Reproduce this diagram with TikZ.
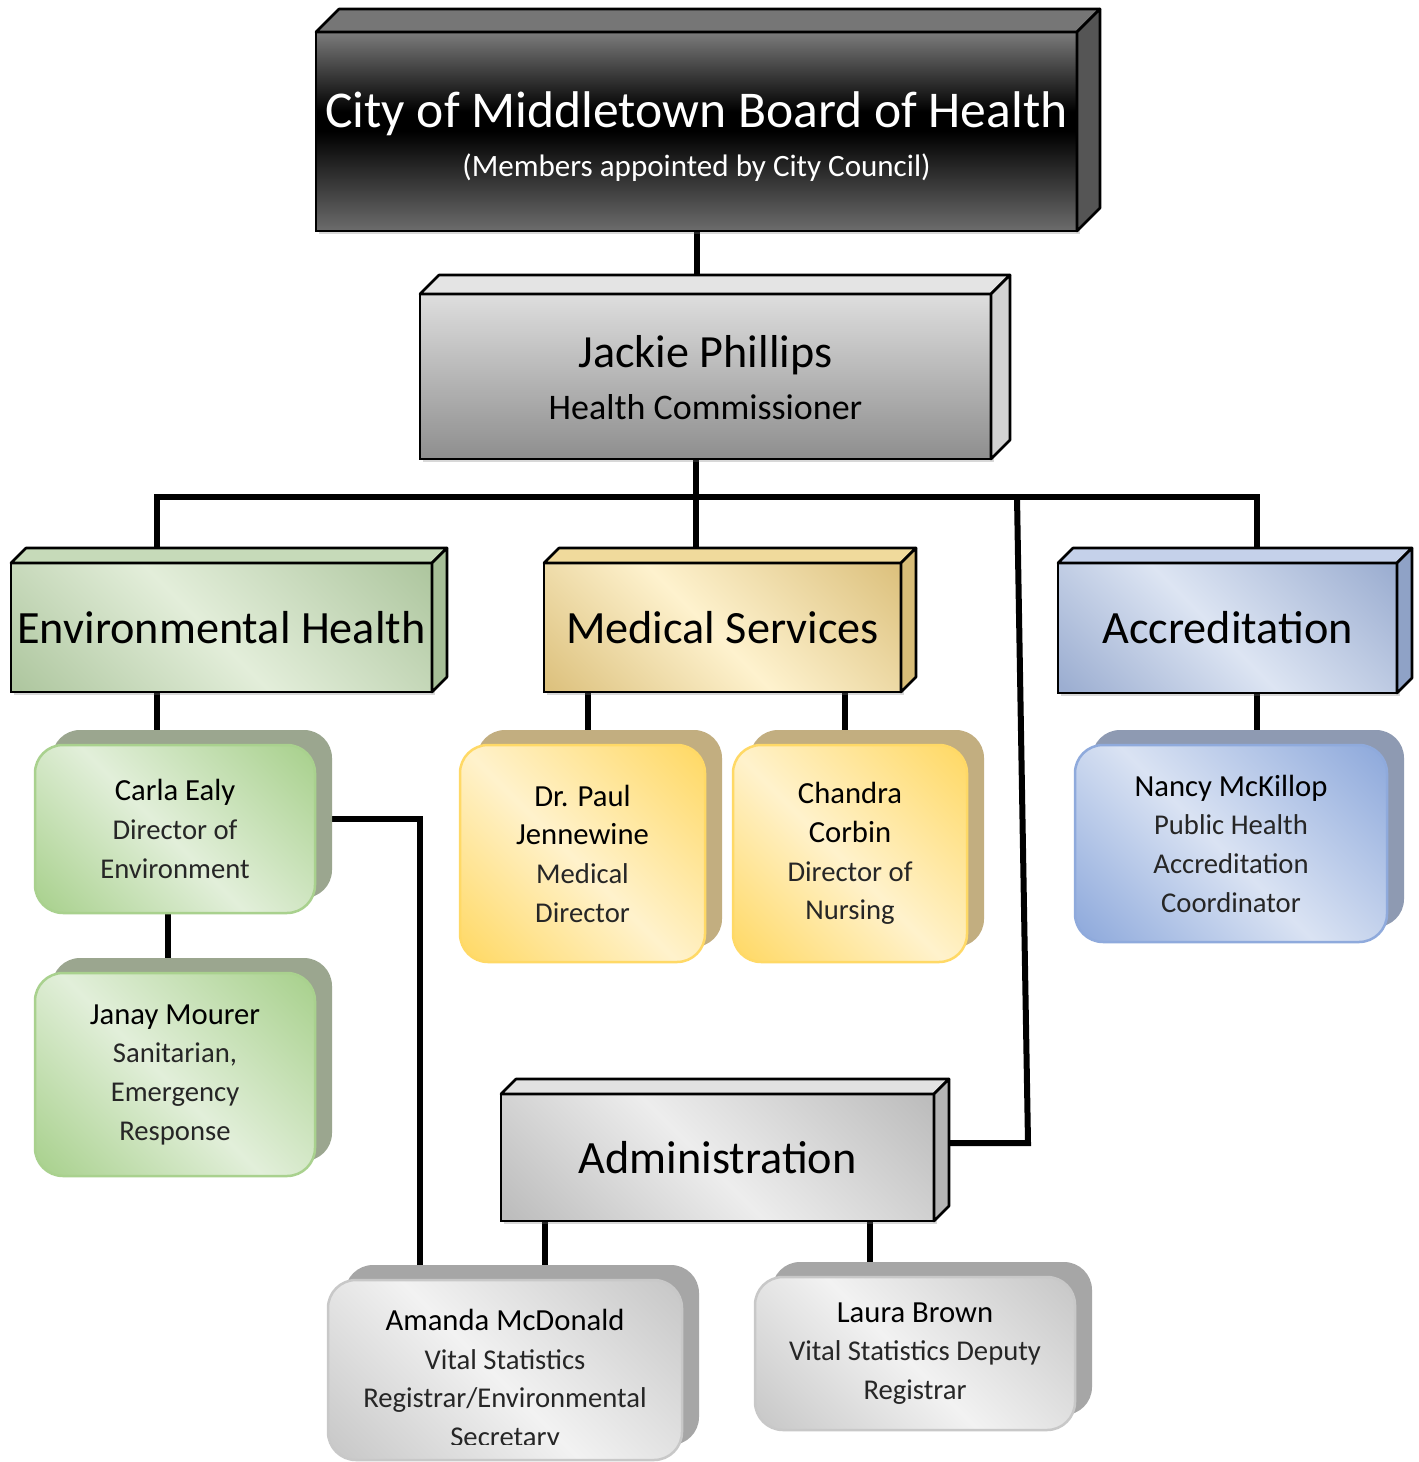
\documentclass[tikz,border=0pt]{standalone}
\usepackage{fontspec}
\setmainfont{Carlito}
\usetikzlibrary{shadows,backgrounds}

% one pixel of the layout
\newcommand\px{*0.75pt}

% department boxes
\definecolor{envdark}{HTML}{AFC7A0}
\definecolor{envlight}{HTML}{E3EEDA}
\definecolor{envtop}{HTML}{C6DAB9}
\definecolor{envside}{HTML}{A6BE97}
\definecolor{meddark}{HTML}{DDC27F}
\definecolor{medlight}{HTML}{FEF2CE}
\definecolor{medtop}{HTML}{F0DA9C}
\definecolor{medside}{HTML}{D8BD78}
\definecolor{accdark}{HTML}{9CAED1}
\definecolor{acclight}{HTML}{DDE5F3}
\definecolor{acctop}{HTML}{C5D1EA}
\definecolor{accside}{HTML}{8FA2C6}
\definecolor{admdark}{HTML}{BDBDBD}
\definecolor{admlight}{HTML}{EDEDED}
\definecolor{admtop}{HTML}{E2E2E2}
\definecolor{admside}{HTML}{B4B4B4}
\definecolor{boardhigh}{HTML}{7C7C7C}
\definecolor{boardlow}{HTML}{6C6C6C}
\definecolor{boardtop}{HTML}{767676}
\definecolor{boardside}{HTML}{555555}
\definecolor{jphigh}{HTML}{DEDEDE}
\definecolor{jplow}{HTML}{8E8E8E}
\definecolor{jptop}{HTML}{E4E4E4}
\definecolor{jpside}{HTML}{D2D2D2}
% person cards
\definecolor{greenedge}{HTML}{A9D18E}
\definecolor{greenlight}{HTML}{E2EFDA}
\definecolor{greenshadow}{HTML}{9BA68F}
\definecolor{goldedge}{HTML}{FFD966}
\definecolor{goldlight}{HTML}{FFF2CC}
\definecolor{goldshadow}{HTML}{C2AE80}
\definecolor{blueedge}{HTML}{8FAADC}
\definecolor{bluelight}{HTML}{DAE3F3}
\definecolor{blueshadow}{HTML}{8E9AB2}
\definecolor{greyedge}{HTML}{C8C8C8}
\definecolor{greylight}{HTML}{F2F2F2}
\definecolor{greyshadow}{HTML}{A6A6A6}
\definecolor{titlegrey}{HTML}{262626}

\newcommand\diagshading[3]{%
  \pgfdeclarehorizontalshading{#1}{100bp}{color(0bp)=(#2); color(16bp)=(#2);
    color(48bp)=(#3); color(84bp)=(#2); color(100bp)=(#2)}}
\diagshading{envfill}{envdark}{envlight}
\diagshading{medfill}{meddark}{medlight}
\diagshading{accfill}{accdark}{acclight}
\diagshading{admfill}{admdark}{admlight}
\diagshading{greenfill}{greenedge}{greenlight}
\diagshading{goldfill}{goldedge}{goldlight}
\diagshading{bluefill}{blueedge}{bluelight}
\diagshading{greyfill}{greyedge}{greylight}
\pgfdeclareverticalshading{boardfill}{100bp}{color(0bp)=(boardlow); color(25bp)=(boardlow);
  color(50bp)=(black); color(55bp)=(black); color(75bp)=(boardhigh); color(100bp)=(boardhigh)}
\pgfdeclareverticalshading{jpfill}{100bp}{color(0bp)=(jplow); color(25bp)=(jplow);
  color(75bp)=(jphigh); color(100bp)=(jphigh)}

\newcommand\who[1]{{\fontsize{23pt}{29pt}\selectfont\color{black}#1}}

\begin{document}
\begin{tikzpicture}[x=0.75pt, y=-0.75pt,
    dept/.style={draw, line width=2.6\px, inner sep=0pt, outer sep=0pt, align=center,
                 font=\fontsize{34.7pt}{41pt}\selectfont,
                 drop shadow={shadow xshift=3\px, shadow yshift=-3\px, opacity=0.3}},
    slab/.style={draw, line width=2.6\px, line join=round},
    cardtext/.style={align=center, text=titlegrey, font=\fontsize{21.5pt}{29pt}\selectfont},
    card/.style={cardtext, rounded corners=28\px, draw=#1edge, line width=2.5\px,
                 shading=#1fill, shading angle=45, inner sep=0pt,
                 drop shadow={shadow xshift=17\px, shadow yshift=15\px, opacity=1, fill=#1shadow}},
    link/.style={line width=6\px}]
  \useasboundingbox (0,0) rectangle (1419,1462);

  % boxes
  \node[dept, shading=boardfill, text=white, font=\fontsize{23.3pt}{36.5pt}\selectfont,
        minimum width=761\px, minimum height=199\px] (board) at (696.5,131.5)
    {\rule{0pt}{39.25pt}{\fontsize{38.7pt}{36.5pt}\selectfont City of Middletown Board of Health}\\
     (Members appointed by City Council)\rule[-8pt]{0pt}{8pt}};
  \node[dept, shading=jpfill, font=\fontsize{27pt}{39pt}\selectfont,
        minimum width=571\px, minimum height=165\px] (jackie) at (705.5,376.5)
    {\rule{0pt}{32.75pt}{\fontsize{34.6pt}{39pt}\selectfont Jackie Phillips}\\
     Health Commissioner\rule[-8pt]{0pt}{8pt}};
  \node[dept, shading=envfill, shading angle=45, minimum width=421\px, minimum height=129\px]
    (env) at (221.5,627.5) {Environmental Health};
  \node[dept, shading=medfill, shading angle=45, minimum width=357\px, minimum height=129\px]
    (med) at (722.5,627.5) {Medical Services};
  \node[dept, shading=accfill, shading angle=45, minimum width=339\px, minimum height=130\px]
    (accr) at (1227.5,628) {Accreditation};
  \node[dept, shading=admfill, shading angle=45, minimum width=433\px, minimum height=127\px]
    (admin) at (717.5,1157.5) {Administration};

  \foreach \nm/\dz/\ctop/\cside in {board/17.25pt/boardtop/boardside, jackie/14.25pt/jptop/jpside,
      env/11.25pt/envtop/envside, med/11.25pt/medtop/medside,
      accr/11.25pt/acctop/accside, admin/11.25pt/admtop/admside}{
    \filldraw[slab, fill=\ctop] (\nm.north west) -- ([shift={(\dz,\dz)}]\nm.north west)
      -- ([shift={(\dz,\dz)}]\nm.north east) -- (\nm.north east) -- cycle;
    \filldraw[slab, fill=\cside] (\nm.north east) -- ([shift={(\dz,\dz)}]\nm.north east)
      -- ([shift={(\dz,\dz)}]\nm.south east) -- (\nm.south east) -- cycle;
  }

  % people
  \node[card=green, minimum width=280\px, minimum height=168\px] (carla) at (175,829)
    {\who{Carla Ealy}\\Director of\\Environment};
  \node[card=green, minimum width=280\px, minimum height=203\px] (janay) at (175,1074.5)
    {\who{Janay Mourer}\\Sanitarian,\\Emergency\\Response};
  \node[card=gold, minimum width=245\px, minimum height=217\px] (drpaul) at (582.5,853.5)
    {\who{Dr. Paul}\\\who{Jennewine}\\Medical\\Director};
  \node[card=gold, minimum width=234\px, minimum height=217\px] (chandra) at (850,853.5)
    {\who{Chandra}\\\who{Corbin}\\Director of\\Nursing};
  \node[card=blue, minimum width=312\px, minimum height=197\px] (nancy) at (1231,843.5)
    {\who{Nancy McKillop}\\Public Health\\Accreditation\\Coordinator};
  \node[card=grey, minimum width=320\px, minimum height=153\px] (laura) at (915,1353.5)
    {\who{Laura Brown}\\Vital Statistics Deputy\\Registrar};
  \node[card=grey, minimum width=354\px, minimum height=180\px] (amanda) at (505,1370) {};
  \begin{scope}
    \clip (amanda.north west) rectangle ([yshift=17\px]amanda.south east);
    \node[cardtext] (amandatext) at ([yshift=-10\px]amanda.center)
      {\who{Amanda McDonald}\\Vital Statistics\\Registrar/Environmental\\Secretary};
  \end{scope}

  % where the lines leave the boxes
  \coordinate (hub) at (696,497);
  \coordinate (admintap) at (1017,497);
  \coordinate (adminbend) at (1028,1143);
  \coordinate (envtap) at ([xshift=146\px]env.south west);
  \coordinate (medtapl) at ([xshift=44\px]med.south west);
  \coordinate (medtapr) at ([xshift=301\px]med.south west);
  \coordinate (acctap) at ([xshift=199\px]accr.south west);
  \coordinate (admtapl) at ([xshift=44\px]admin.south west);
  \coordinate (admtapr) at ([xshift=369\px]admin.south west);
  \coordinate (carlatap) at ([xshift=-7\px]carla.south);
  \coordinate (carlaside) at ([yshift=10\px]carla.east);
  \coordinate (amandatap) at ([xshift=-85\px]amanda.north);

  \begin{scope}[on background layer]
    \fill[white] (0,0) rectangle (1419,1462);
    \draw[link] (board.south) -- (board.south |- jackie.north);
    \draw[link] (hub |- jackie.south) -- (hub) -- (hub |- med.north);
    \draw[link] (envtap |- env.north) |- (hub) -| (acctap |- accr.north);
    \draw[link] (admintap) -- (adminbend) -- (adminbend -| admin.east);
    \draw[link] (envtap) -- (envtap |- carla.north);
    \draw[link] (carlatap) -- (carlatap |- janay.north);
    \draw[link] (carlaside) -| (amandatap);
    \draw[link] (medtapl) -- (medtapl |- drpaul.north);
    \draw[link] (medtapr) -- (medtapr |- chandra.north);
    \draw[link] (acctap) -- (acctap |- nancy.north);
    \draw[link] (admtapl) -- (admtapl |- amanda.north);
    \draw[link] (admtapr) -- (admtapr |- laura.north);
  \end{scope}
\end{tikzpicture}
\end{document}
